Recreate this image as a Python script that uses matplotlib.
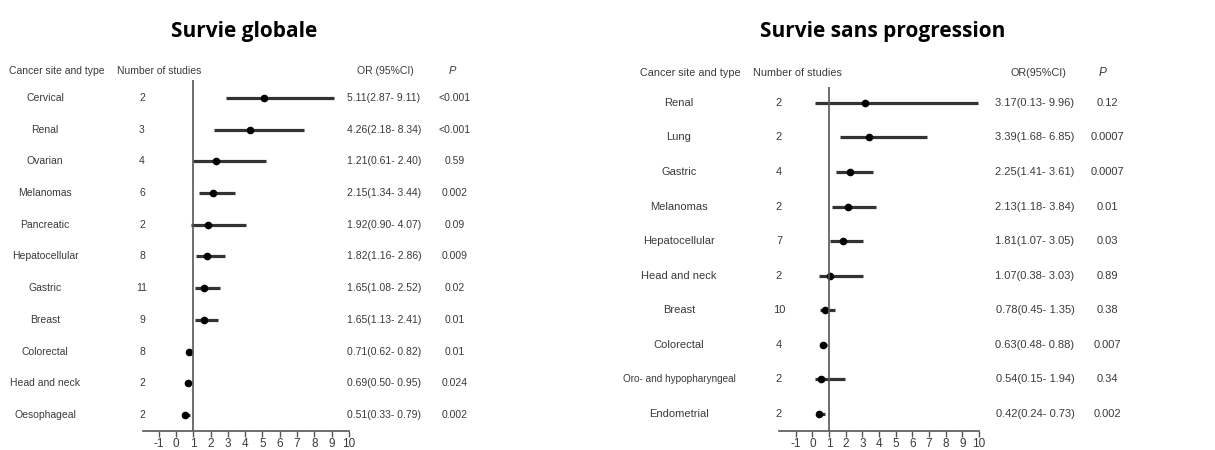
import matplotlib
matplotlib.use("Agg")
import matplotlib.pyplot as plt
import matplotlib.transforms as mtransforms

W, H = 1215, 450
plt.rcParams["axes.unicode_minus"] = False

# --- Survie globale (overall survival) ---
os_sites = ["Cervical", "Renal", "Ovarian", "Melanomas", "Pancreatic", "Hepatocellular",
            "Gastric", "Breast", "Colorectal", "Head and neck", "Oesophageal"]
os_n = [2, 3, 4, 6, 2, 8, 11, 9, 8, 2, 2]
os_or = [5.11, 4.26, 1.21, 2.15, 1.92, 1.82, 1.65, 1.65, 0.71, 0.69, 0.51]
os_lo = [2.87, 2.18, 0.61, 1.34, 0.90, 1.16, 1.08, 1.13, 0.62, 0.50, 0.33]
os_hi = [9.11, 8.34, 2.40, 3.44, 4.07, 2.86, 2.52, 2.41, 0.82, 0.95, 0.79]
os_p = ["<0.001", "<0.001", "0.59", "0.002", "0.09", "0.009", "0.02", "0.01", "0.01", "0.024", "0.002"]
# marks as they are actually drawn in the original figure
os_pt_drawn = [5.11, 4.26, 2.30, 2.15, 1.85, 1.82, 1.65, 1.65, 0.74, 0.69, 0.51]
os_lo_drawn = [2.87, 2.18, 1.00, 1.34, 0.85, 1.16, 1.08, 1.13, 0.62, 0.50, 0.33]
os_hi_drawn = [9.11, 7.40, 5.20, 3.44, 4.07, 2.86, 2.52, 2.41, 0.82, 0.95, 0.79]

# --- Survie sans progression (progression-free survival) ---
pfs_sites = ["Renal", "Lung", "Gastric", "Melanomas", "Hepatocellular", "Head and neck",
             "Breast", "Colorectal", "Oro- and hypopharyngeal", "Endometrial"]
pfs_n = [2, 2, 4, 2, 7, 2, 10, 4, 2, 2]
pfs_or = [3.17, 3.39, 2.25, 2.13, 1.81, 1.07, 0.78, 0.63, 0.54, 0.42]
pfs_lo = [0.13, 1.68, 1.41, 1.18, 1.07, 0.38, 0.45, 0.48, 0.15, 0.24]
pfs_hi = [9.96, 6.85, 3.61, 3.84, 3.05, 3.03, 1.35, 0.88, 1.94, 0.73]
pfs_p = ["0.12", "0.0007", "0.0007", "0.01", "0.03", "0.89", "0.38", "0.007", "0.34", "0.002"]

ticks = list(range(-1, 11))

TXT = "#3a3a3a"
FONT = ["Liberation Sans", "DejaVu Sans"]

fig = plt.figure(figsize=(W / 100, H / 100), dpi=100)


def rect(x0, y0, x1, y1):
    return [x0 / W, 1 - y1 / H, (x1 - x0) / W, (y1 - y0) / H]


def panel(box, xlim, ylim, pts, los, his, sites, ns, ortxt, ps, cols, fs):
    ax = fig.add_axes(rect(*box))
    rows = list(range(len(sites)))
    ax.set_xlim(*xlim)
    ax.set_ylim(*ylim)
    ax.hlines(rows, los, his, color="#333333", lw=2.3)
    ax.plot(pts, rows, "o", color="black", ms=4.5)
    ax.axvline(1, color="#555555", lw=1.2)
    for s in ["top", "right", "left"]:
        ax.spines[s].set_visible(False)
    ax.spines["bottom"].set_color("#555555")
    ax.spines["bottom"].set_linewidth(1.2)
    ax.set_yticks([])
    ax.set_xticks(ticks)
    ax.tick_params(axis="x", length=4, width=1, color="#555555", pad=1,
                   labelsize=8.5, labelcolor=TXT)
    for lab in ax.get_xticklabels():
        lab.set_family(FONT)

    tr = mtransforms.blended_transform_factory(fig.transFigure, ax.transData)
    site_x, n_x, or_x, p_x = cols
    for i in rows:
        sfs = fs - 0.8 if len(sites[i]) > 18 else fs
        ax.text(site_x / W, i, sites[i], transform=tr, ha="center", va="center",
                fontsize=sfs, color=TXT, family=FONT, clip_on=False)
        ax.text(n_x / W, i, str(ns[i]), transform=tr, ha="center", va="center",
                fontsize=fs, color=TXT, family=FONT, clip_on=False)
        ax.text(or_x / W, i, ortxt[i], transform=tr, ha="center", va="center",
                fontsize=fs, color=TXT, family=FONT, clip_on=False)
        ax.text(p_x / W, i, ps[i], transform=tr, ha="center", va="center",
                fontsize=fs, color=TXT, family=FONT, clip_on=False)
    return ax


os_txt = [f"{o:.2f}({l:.2f}- {h:.2f})" for o, l, h in zip(os_or, os_lo, os_hi)]
pfs_txt = [f"{o:.2f}({l:.2f}- {h:.2f})" for o, l, h in zip(pfs_or, pfs_lo, pfs_hi)]

panel((143, 80, 349, 431), (-1.9, 10), (10.5, -0.56),
      os_pt_drawn, os_lo_drawn, os_hi_drawn, os_sites, os_n, os_txt, os_p,
      (45, 142, 384, 455), 7.5)
panel((779, 87, 979, 431), (-2.0, 10), (9.5, -0.46),
      pfs_or, pfs_lo, pfs_hi, pfs_sites, pfs_n, pfs_txt, pfs_p,
      (679, 779, 1035, 1107), 8.0)

# column headers
hdr = dict(color=TXT, family=FONT, va="center")
fig.text(9 / W, 1 - 71 / H, "Cancer site and type", ha="left", fontsize=7.5, **hdr)
fig.text(117 / W, 1 - 71 / H, "Number of studies", ha="left", fontsize=7.5, **hdr)
fig.text(385 / W, 1 - 71 / H, "OR (95%CI)", ha="center", fontsize=7.5, **hdr)
fig.text(452 / W, 1 - 71 / H, "P", ha="center", fontsize=8, style="italic", **hdr)
fig.text(640 / W, 1 - 73 / H, "Cancer site and type", ha="left", fontsize=7.8, **hdr)
fig.text(753 / W, 1 - 73 / H, "Number of studies", ha="left", fontsize=7.8, **hdr)
fig.text(1038 / W, 1 - 73 / H, "OR(95%CI)", ha="center", fontsize=7.8, **hdr)
fig.text(1103 / W, 1 - 73 / H, "P", ha="center", fontsize=8.5, style="italic", **hdr)

# titles
fig.text(244 / W, 1 - 32 / H, "Survie globale", ha="center", va="center",
         fontsize=15, fontweight="bold", family=["Open Sans", "DejaVu Sans"])
fig.text(883 / W, 1 - 32 / H, "Survie sans progression", ha="center", va="center",
         fontsize=15, fontweight="bold", family=["Open Sans", "DejaVu Sans"])

fig.savefig("out.png", dpi=100)
